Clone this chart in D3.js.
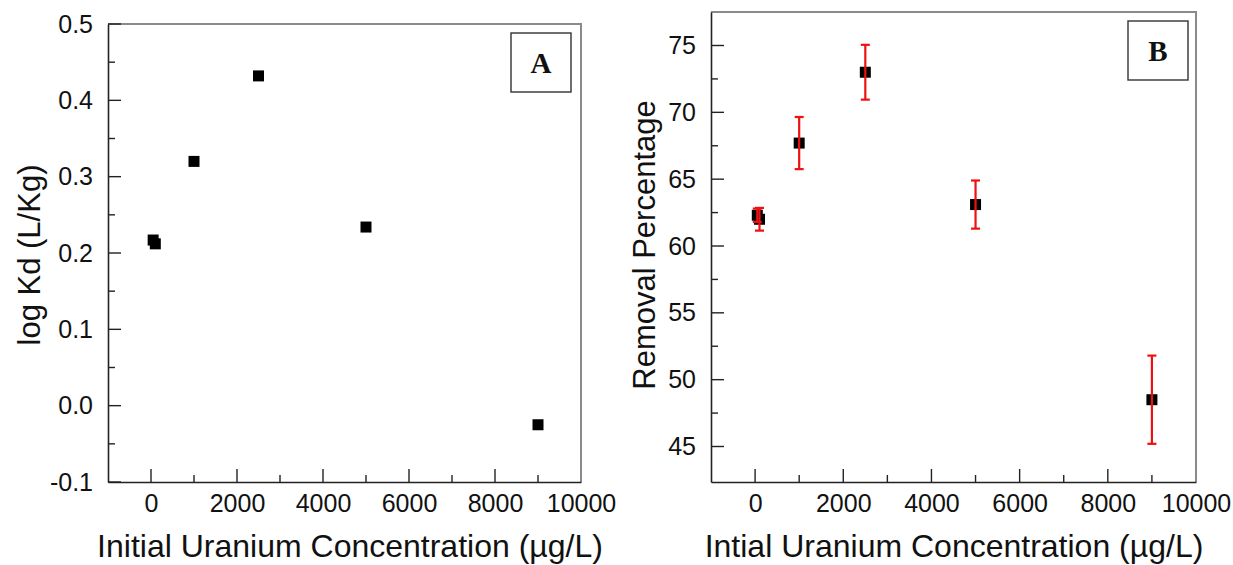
<!DOCTYPE html>
<html lang="en">
<head>
    <meta charset="UTF-8">
    <title>Uranium sorption</title>
    <style>
        body { margin: 0; background: #fff; }
        svg text { font-family: "Liberation Sans", Arial, sans-serif; fill: #111; }
    </style>
</head>
<body>
    <svg id="chart" width="1233" height="565"></svg>
    <script src="https://d3js.org/d3.v7.min.js"></script>
    <script>
        // data
        var concA = [50, 100, 1000, 2500, 5000, 9000];
        var logKd = [0.217, 0.212, 0.320, 0.432, 0.234, -0.025];

        var concB = [50, 100, 1000, 2500, 5000, 9000];
        var removal = [62.3, 62.0, 67.7, 73.0, 63.1, 48.5];
        var removalErr = [0.5, 0.85, 1.95, 2.05, 1.8, 3.3];

        var xTicks = [0, 2000, 4000, 6000, 8000, 10000];
        var yTicksA = [-0.1, 0.0, 0.1, 0.2, 0.3, 0.4, 0.5];
        var yTicksB = [45, 50, 55, 60, 65, 70, 75];

        var svg = d3.select("#chart");

        // draws the frame, ticks and labels of one panel
        function panel(opt) {
            var g = svg.append("g");
            var x = opt.x, y = opt.y;
            var x0 = x.range()[0], x1 = x.range()[1];
            var y0 = y.range()[0], y1 = y.range()[1];

            // top and right of the frame are grey
            g.append("path")
                .attr("d", "M" + x0 + "," + y1 + "H" + x1 + "V" + y0)
                .attr("fill", "none").attr("stroke", "#8a8a8a").attr("stroke-width", 2);

            // x axis, ticks inside
            var xa = g.append("g").attr("transform", "translate(0," + y0 + ")")
                .call(d3.axisBottom(x).tickValues(xTicks).tickSize(0).tickPadding(12)
                    .tickFormat(d3.format("d")));
            xa.select(".domain").attr("stroke", "#222").attr("stroke-width", 1.6);
            xa.selectAll("text").style("font-size", "25px");
            d3.range(0, 10000, 1000).forEach(function (v) {
                g.append("line").attr("x1", x(v)).attr("x2", x(v))
                    .attr("y1", y0).attr("y2", y0 - (v % 2000 === 0 ? 13 : 7))
                    .attr("stroke", "#222").attr("stroke-width", 1.4);
            });

            // y axis
            var ya = g.append("g").attr("transform", "translate(" + x0 + ",0)")
                .call(d3.axisLeft(y).tickValues(opt.yTicks).tickSize(0).tickPadding(15)
                    .tickFormat(opt.fmt));
            ya.select(".domain").attr("stroke", "#222").attr("stroke-width", 1.6);
            ya.selectAll("text").style("font-size", "25px");
            opt.minor.forEach(function (v, i) {
                g.append("line").attr("x1", x0).attr("x2", x0 + (i % 2 === 0 ? 13 : 7))
                    .attr("y1", y(v)).attr("y2", y(v))
                    .attr("stroke", "#222").attr("stroke-width", 1.4);
            });

            // axis titles
            g.append("text").attr("x", opt.xTitleX).attr("y", 557)
                .attr("text-anchor", "middle").style("font-size", "32px").text(opt.xTitle);
            g.append("text")
                .attr("transform", "translate(" + opt.yTitleX + "," + opt.yTitleY + ") rotate(-90)")
                .attr("text-anchor", "middle").style("font-size", "31px").text(opt.yTitle);

            // panel letter
            g.append("rect").attr("x", opt.box[0]).attr("y", opt.box[1])
                .attr("width", 60).attr("height", 59)
                .attr("fill", "#fff").attr("stroke", "#333").attr("stroke-width", 1.4);
            g.append("text").attr("x", opt.box[0] + 30).attr("y", opt.box[1] + 40)
                .attr("text-anchor", "middle")
                .style("font-family", "'Liberation Serif', 'Times New Roman', serif")
                .style("font-weight", "bold").style("font-size", "29px").text(opt.letter);
            return g;
        }

        // hyphen rather than the unicode minus, as in the figure
        var fmtA = function (d) { return d3.format(".1f")(d).replace("\u2212", "-"); };

        // panel A
        var xA = d3.scaleLinear().domain([-1000, 10000]).range([108, 581]);
        var yA = d3.scaleLinear().domain([-0.1, 0.5]).range([482, 24]);
        var gA = panel({
            x: xA, y: yA, yTicks: yTicksA, fmt: fmtA,
            minor: d3.range(-0.1, 0.5001, 0.05).map(function (v) { return +v.toFixed(2); }),
            xTitle: "Initial Uranium Concentration (\u00b5g/L)", xTitleX: 350,
            yTitle: "log Kd (L/Kg)", yTitleX: 40, yTitleY: 255,
            box: [511, 33], letter: "A"
        });
        gA.selectAll(".pt")
            .data(concA.map(function (c, i) { return [c, logKd[i]]; }))
            .enter().append("rect")
            .attr("x", function (d) { return xA(d[0]) - 5.5; })
            .attr("y", function (d) { return yA(d[1]) - 5.5; })
            .attr("width", 11).attr("height", 11).attr("fill", "#000");

        // panel B
        var xB = d3.scaleLinear().domain([-1000, 10000]).range([711, 1196]);
        var yB = d3.scaleLinear().domain([45, 75]).range([446.5, 45.5]);
        yB.domain([yB.invert(482), yB.invert(12)]).range([482, 12]);
        var gB = panel({
            x: xB, y: yB, yTicks: yTicksB, fmt: d3.format("d"),
            minor: d3.range(45, 75.001, 2.5),
            xTitle: "Intial Uranium Concentration (\u00b5g/L)", xTitleX: 954,
            yTitle: "Removal Percentage", yTitleX: 655, yTitleY: 245,
            box: [1128, 21], letter: "B"
        });
        var ptsB = concB.map(function (c, i) { return [c, removal[i], removalErr[i]]; });
        gB.selectAll(".pt")
            .data(ptsB)
            .enter().append("rect")
            .attr("x", function (d) { return xB(d[0]) - 5.5; })
            .attr("y", function (d) { return yB(d[1]) - 5.5; })
            .attr("width", 11).attr("height", 11).attr("fill", "#000");
        var eb = gB.selectAll(".err").data(ptsB).enter().append("g").attr("stroke", "#ee1111")
            .attr("stroke-width", 2.2);
        eb.append("line")
            .attr("x1", function (d) { return xB(d[0]); }).attr("x2", function (d) { return xB(d[0]); })
            .attr("y1", function (d) { return yB(d[1] + d[2]); }).attr("y2", function (d) { return yB(d[1] - d[2]); });
        [1, -1].forEach(function (s) {
            eb.append("line")
                .attr("x1", function (d) { return xB(d[0]) - 4.5; }).attr("x2", function (d) { return xB(d[0]) + 4.5; })
                .attr("y1", function (d) { return yB(d[1] + s * d[2]); }).attr("y2", function (d) { return yB(d[1] + s * d[2]); });
        });
    </script>
</body>
</html>
